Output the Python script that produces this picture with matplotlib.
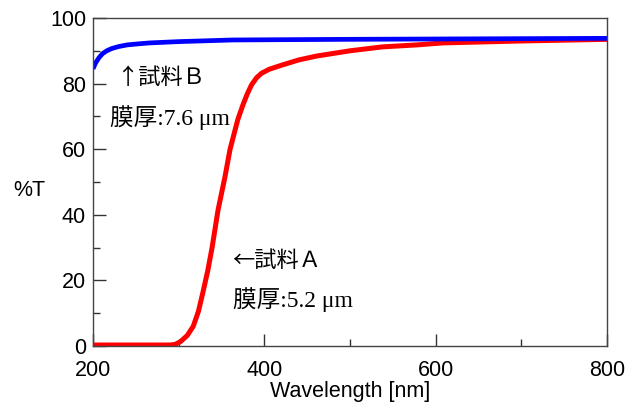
import matplotlib
matplotlib.use("Agg")
import matplotlib.pyplot as plt
from matplotlib.ticker import MultipleLocator

# Sample A (red)
wl_a = [200, 290, 296, 302, 310, 317, 323, 328, 334, 339, 346, 354, 360, 365, 369, 375, 380, 385, 391, 397, 406, 420, 440, 461, 500, 538, 578, 608, 700, 800]
t_a = [0.3, 0.3, 0.5, 1.3, 3.2, 6, 10.5, 16, 23, 30, 41.5, 51.5, 60, 65, 69, 73.5, 76.8, 79.6, 81.8, 83.2, 84.4, 85.6, 87.2, 88.4, 90, 91.2, 91.8, 92.4, 93, 93.5]

# Sample B (blue)
wl_b = [200, 203, 207, 211, 216, 222, 230, 240, 252, 266, 300, 363, 500, 600, 800]
t_b = [84.5, 86.3, 87.9, 89.1, 90.0, 90.7, 91.3, 91.8, 92.1, 92.4, 92.8, 93.3, 93.5, 93.6, 93.8]

x_ticks = [200, 400, 600, 800]
y_ticks = [0, 20, 40, 60, 80, 100]

W, H = 633, 405
fig = plt.figure(figsize=(W / 100, H / 100), dpi=100)
ax = fig.add_axes([93 / W, (H - 346) / H, 514 / W, 328 / H])

ax.plot(wl_a, t_a, color="#ff0000", lw=3.6, solid_capstyle="butt", solid_joinstyle="round")
ax.plot(wl_b, t_b, color="#0000ff", lw=3.4, solid_capstyle="butt", solid_joinstyle="round")

ax.set_xlim(200, 800)
ax.set_ylim(0, 100)
ax.set_xticks(x_ticks)
ax.set_yticks(y_ticks)
ax.xaxis.set_minor_locator(MultipleLocator(100))
ax.yaxis.set_minor_locator(MultipleLocator(10))
ax.tick_params(which="both", direction="in", top=False, right=False, color="#333333", width=1)
ax.tick_params(which="major", length=9, labelsize=15.5)
ax.tick_params(axis="x", which="major", pad=10)
ax.tick_params(axis="y", which="major", pad=5)
ax.tick_params(which="minor", length=5)
for lab in ax.get_xticklabels() + ax.get_yticklabels():
    lab.set_family("Liberation Sans")
for s in ax.spines.values():
    s.set_color("#444444")
    s.set_linewidth(1)

ax.set_xlabel("Wavelength [nm]", family="Liberation Sans", fontsize=15.5, labelpad=0)
fig.text(29 / W, 1 - 190 / H, "%T", family="Liberation Sans", fontsize=15.5, ha="center", va="center")

cjk = ["Noto Sans CJK JP", "DejaVu Sans"]
mix = ["Liberation Serif", "Noto Sans CJK JP"]
ax.text(227, 82.0, "↑試料Ｂ", family=cjk, fontsize=16, va="center", ha="left")
ax.text(220, 69.7, "膜厚:7.6 μm", family=mix, fontsize=17, va="center", ha="left")
ax.text(363, 26.2, "←試料Ａ", family=cjk, fontsize=16, va="center", ha="left")
ax.text(363, 14.3, "膜厚:5.2 μm", family=mix, fontsize=17, va="center", ha="left")

fig.savefig("out.png", dpi=100)
